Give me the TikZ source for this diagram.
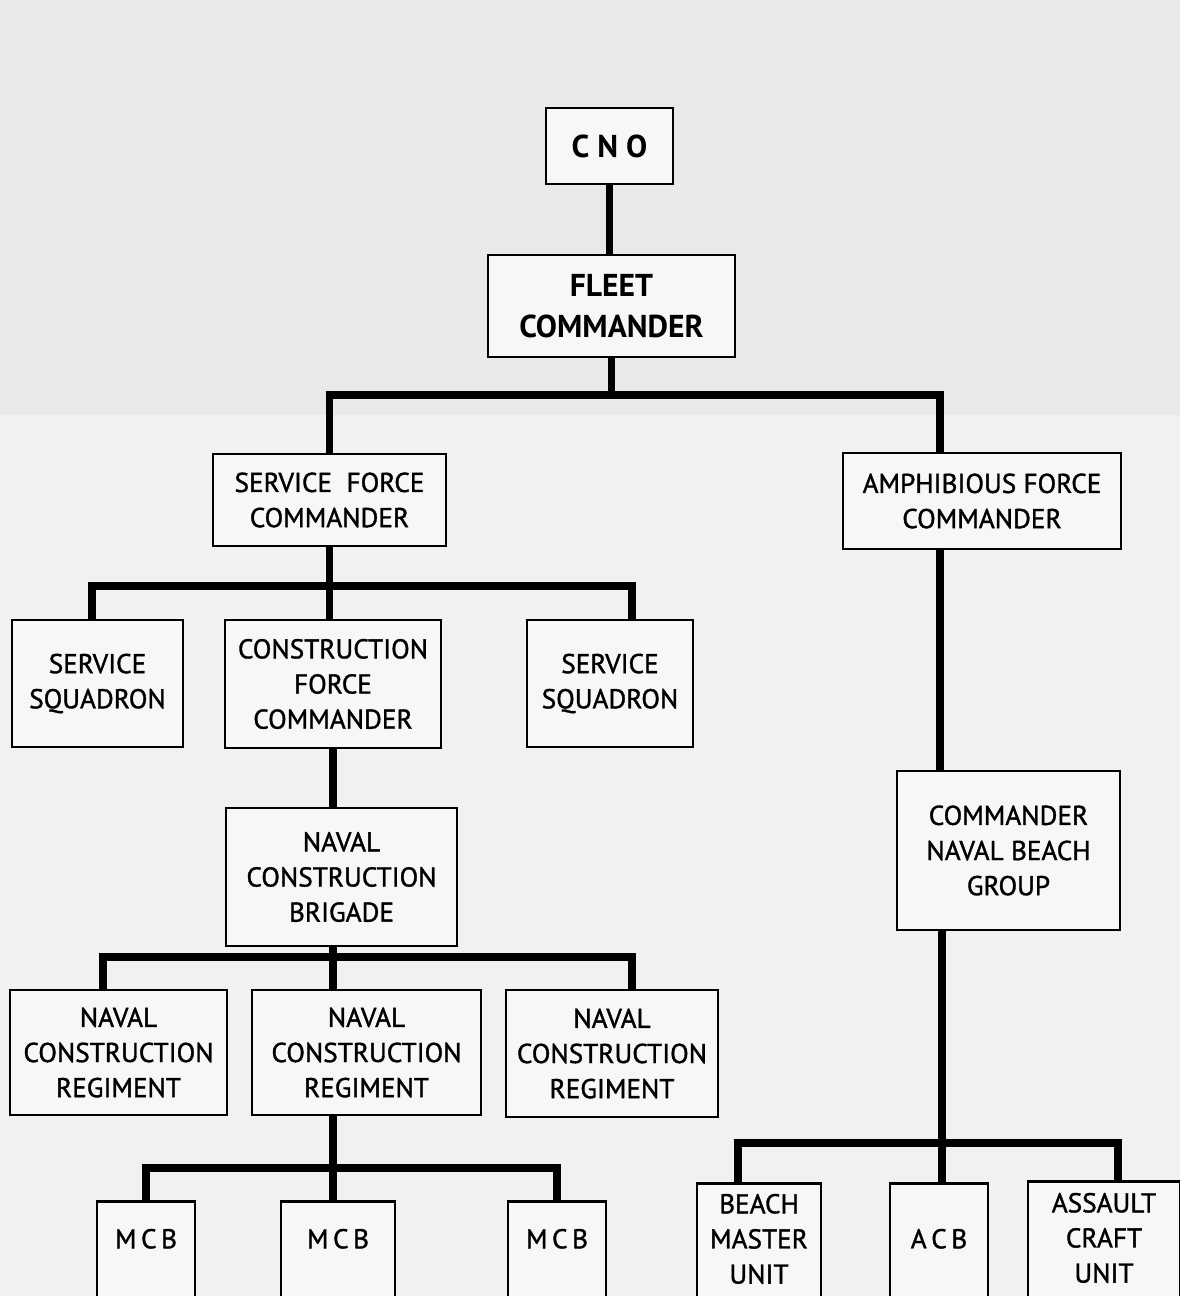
\documentclass[tikz,border=0pt]{standalone}
\usepackage{fontspec}
\setmainfont{PT Sans}
\newfontfamily\chartfont{PT Sans}[FakeBold=1.3]
\newcommand{\toprows}[1]{\begin{tabular}[t]{@{}c@{}}#1\end{tabular}}
\tikzset{
  box/.style={draw, line width=1.5pt, fill=gray!6, align=center, inner sep=0pt,
    font=\chartfont\fontsize{15.5}{20}\selectfont},
  topbox/.style={box, font=\fontsize{18}{23}\selectfont\bfseries},
  unitbox/.style={draw, line width=1.5pt, fill=gray!6, inner sep=0pt, anchor=north,
    text depth=3cm, font=\chartfont\fontsize{15.5}{20}\selectfont},
  link/.style={line width=4.5pt, line join=miter},
}

\begin{document}
\begin{tikzpicture}[x=0.02cm, y=-0.02cm]
    \useasboundingbox (0,0) rectangle (1180,1296);
    \fill[gray!17] (0,0) rectangle (1180,415);
    \fill[gray!11] (0,415) rectangle (1180,1296);

    % command chain
    \node[topbox, minimum width=2.54cm, minimum height=1.52cm] (cno) at (609.5,146) {C N O};
    \node[topbox, minimum width=4.94cm, minimum height=2.04cm] (fleet) at (611.5,306) {FLEET\\COMMANDER};
    \node[box, minimum width=4.66cm, minimum height=1.84cm] (sfc) at (329.5,500) {SERVICE\ \ FORCE\\COMMANDER};
    \node[box, minimum width=5.56cm, minimum height=1.92cm] (amph) at (982,501) {AMPHIBIOUS FORCE\\COMMANDER};

    % service force
    \node[box, minimum width=3.42cm, minimum height=2.54cm] (ss1) at (97.5,683.5) {SERVICE\\SQUADRON};
    \node[box, minimum width=4.32cm, minimum height=2.56cm] (cfc) at (333,684) {CONSTRUCTION\\FORCE\\COMMANDER};
    \node[box, minimum width=3.32cm, minimum height=2.54cm] (ss2) at (610,683.5) {SERVICE\\SQUADRON};
    \node[box, minimum width=4.62cm, minimum height=2.76cm] (ncb) at (341.5,877) {NAVAL\\CONSTRUCTION\\BRIGADE};
    \node[box, minimum width=4.34cm, minimum height=2.50cm] (ncr1) at (118.5,1052.5) {NAVAL\\CONSTRUCTION\\REGIMENT};
    \node[box, minimum width=4.58cm, minimum height=2.50cm] (ncr2) at (366.5,1052.5) {NAVAL\\CONSTRUCTION\\REGIMENT};
    \node[box, minimum width=4.24cm, minimum height=2.54cm] (ncr3) at (612,1053.5) {NAVAL\\CONSTRUCTION\\REGIMENT};
    \node[unitbox, minimum width=1.96cm, text height=0.94cm] (mcb1) at (146,1200) {\toprows{M\,C\,B}};
    \node[unitbox, minimum width=2.28cm, text height=0.94cm] (mcb2) at (338,1200) {\toprows{M\,C\,B}};
    \node[unitbox, minimum width=1.96cm, text height=0.94cm] (mcb3) at (557,1200) {\toprows{M\,C\,B}};

    % amphibious force
    \node[box, minimum width=4.46cm, minimum height=3.18cm] (cnbg) at (1008.5,850.5) {COMMANDER\\NAVAL BEACH\\GROUP};
    \node[unitbox, minimum width=2.48cm, text height=0.60cm] (bmu) at (759,1182) {\toprows{BEACH\\MASTER\\UNIT}};
    \node[unitbox, minimum width=1.96cm, text height=1.30cm] (acb) at (939,1182) {\toprows{A\,C\,B}};
    \node[unitbox, minimum width=3.04cm, text height=0.62cm] (acu) at (1104,1180) {\toprows{ASSAULT\\CRAFT\\UNIT}};

    % connectors
    \draw[link] (cno.south) -- (cno.south |- fleet.north);
    \coordinate (jA) at (611.5,395);
    \coordinate (amph-in) at (940,0 |- amph.north);
    \coordinate (amph-out) at (940,0 |- amph.south);
    \draw[link] (fleet.south) -- (jA);
    \draw[link] (sfc.north) |- (jA) -| (amph-in);

    \coordinate (jB) at (329.5,586);
    \coordinate (ss1-in) at (92,0 |- ss1.north);
    \coordinate (ss2-in) at (632,0 |- ss2.north);
    \draw[link] (sfc.south) -- (jB);
    \draw[link] (ss1-in) |- (jB) -| (ss2-in);
    \draw[link] (jB) -- (jB |- cfc.north);
    \draw[link] (cfc.south) -- (cfc.south |- ncb.north);

    \coordinate (jC) at (333,957);
    \coordinate (ncr1-in) at (103,0 |- ncr1.north);
    \coordinate (ncr3-in) at (632,0 |- ncr3.north);
    \draw[link] (ncb.south -| jC) -- (jC);
    \draw[link] (ncr1-in) |- (jC) -| (ncr3-in);
    \draw[link] (jC) -- (jC |- ncr2.north);

    \coordinate (jD) at (333,1168);
    \draw[link] (ncr2.south -| jD) -- (jD);
    \draw[link] (mcb1.north) |- (jD) -| (mcb3.north);
    \draw[link] (jD) -- (jD |- mcb2.north);

    \draw[link] (amph-out) -- (amph-out |- cnbg.north);
    \coordinate (jE) at (942,1143);
    \coordinate (bmu-in) at (738,0 |- bmu.north);
    \coordinate (acu-in) at (1118,0 |- acu.north);
    \draw[link] (cnbg.south -| jE) -- (jE);
    \draw[link] (bmu-in) |- (jE) -| (acu-in);
    \draw[link] (jE) -- (jE |- acb.north);
\end{tikzpicture}
\end{document}
